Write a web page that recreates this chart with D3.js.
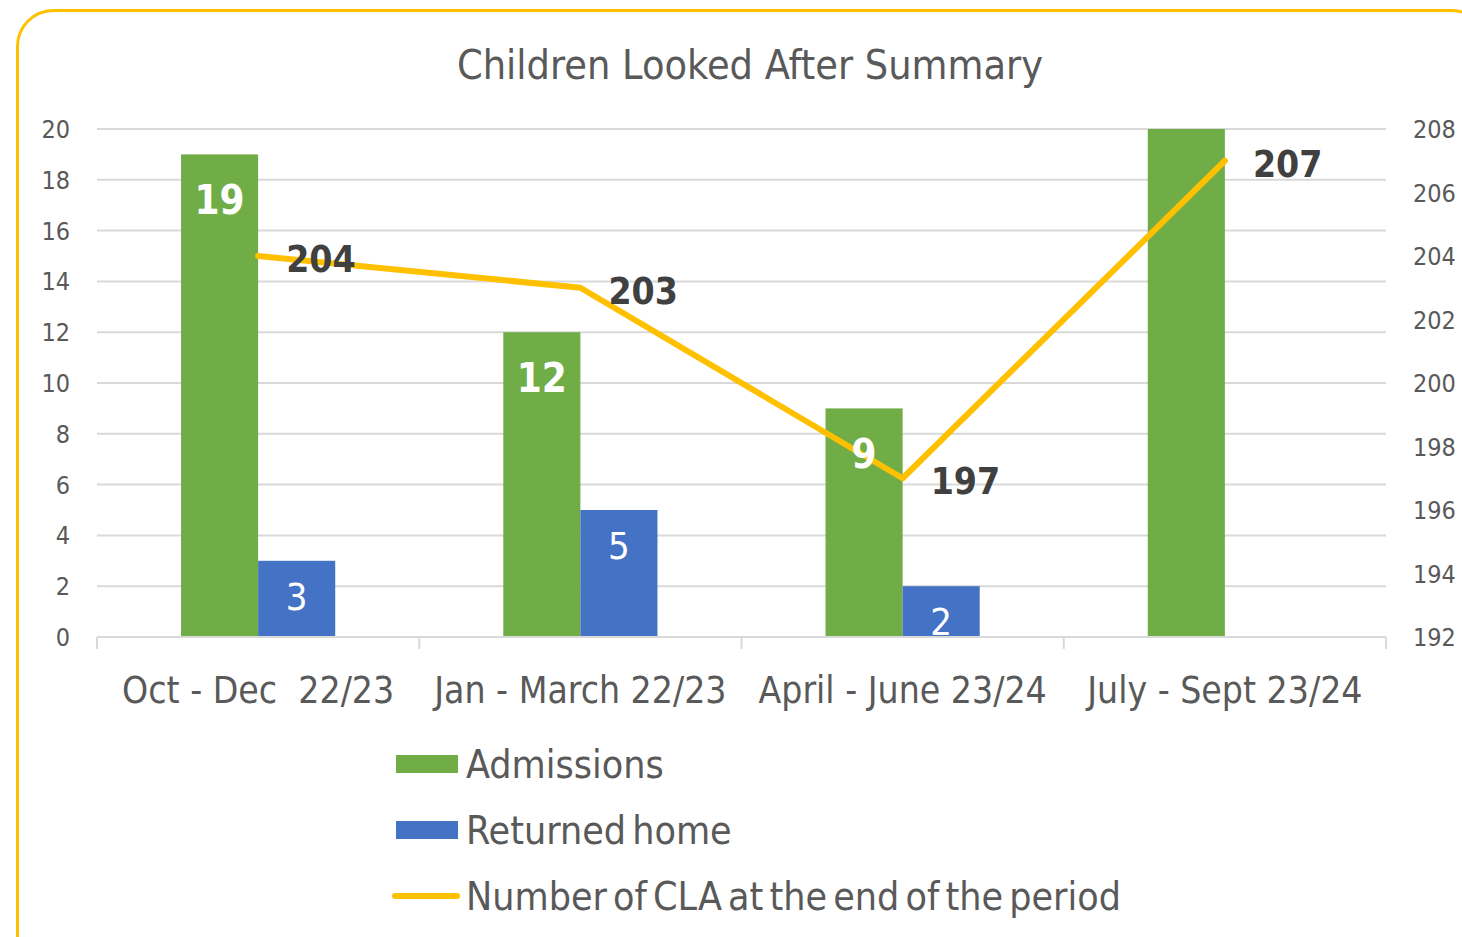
<!DOCTYPE html>
<html>
<head>
<meta charset="utf-8">
<script src="https://cdn.jsdelivr.net/npm/d3@7"></script>
<style>
  body { margin: 0; background: #fff; }
  text { font-family: "DejaVu Sans Condensed", "Roboto", sans-serif; }
</style>
</head>
<body>
<div id="chart"></div>
<script>
const categories = ["Oct - Dec  22/23", "Jan - March 22/23", "April - June 23/24", "July - Sept 23/24"];
const admissions = [19, 12, 9, 20];
const returnedHome = [3, 5, 2, null];
const claEnd = [204, 203, 197, 207];
const leftTicks = [0, 2, 4, 6, 8, 10, 12, 14, 16, 18, 20];
const rightTicks = [192, 194, 196, 198, 200, 202, 204, 206, 208];

const width = 1462, height = 937;
const green = "#70AD47", blue = "#4472C4", gold = "#FFC000", grey = "#595959";

const svg = d3.select("#chart").append("svg")
    .attr("width", width)
    .attr("height", height);

// frame
svg.append("rect")
    .attr("x", 17.5).attr("y", 10.5)
    .attr("width", 1470).attr("height", 960)
    .attr("rx", 36).attr("ry", 36)
    .attr("fill", "none")
    .attr("stroke", gold)
    .attr("stroke-width", 3);

svg.append("text")
    .attr("x", 750).attr("y", 79)
    .attr("text-anchor", "middle")
    .attr("font-size", 41)
    .attr("fill", grey)
    .text("Children Looked After Summary");

const plotL = 97, plotR = 1386, plotT = 129, plotB = 637;

const x = d3.scaleBand().domain(categories).range([plotL, plotR]).padding(0);
const x1 = d3.scaleBand().domain(["adm", "ret"]).range([0, x.bandwidth()]).paddingInner(0).paddingOuter(1.09);
const y = d3.scaleLinear().domain([0, 20]).range([plotB, plotT]);
const y2 = d3.scaleLinear().domain([192, 208]).range([plotB, plotT]);

// gridlines
svg.append("g")
    .selectAll("line")
    .data(leftTicks.slice(1))
    .enter().append("line")
    .attr("x1", plotL).attr("x2", plotR)
    .attr("y1", d => y(d)).attr("y2", d => y(d))
    .attr("stroke", "#d9d9d9")
    .attr("stroke-width", 2);

// left axis
svg.append("g")
    .selectAll("text")
    .data(leftTicks)
    .enter().append("text")
    .attr("x", 70)
    .attr("y", d => y(d) + 9)
    .attr("text-anchor", "end")
    .attr("font-size", 25)
    .attr("fill", grey)
    .text(d => d);

// right axis
svg.append("g")
    .selectAll("text")
    .data(rightTicks)
    .enter().append("text")
    .attr("x", 1413)
    .attr("y", d => y2(d) + 9)
    .attr("font-size", 25)
    .attr("fill", grey)
    .text(d => d);

// bars
const groups = svg.append("g")
    .selectAll("g")
    .data(categories)
    .enter().append("g")
    .attr("transform", d => "translate(" + x(d) + ",0)");

groups.append("rect")
    .attr("x", x1("adm"))
    .attr("width", x1.bandwidth())
    .attr("y", (d, i) => y(admissions[i]))
    .attr("height", (d, i) => plotB - y(admissions[i]))
    .attr("fill", green);

groups.filter((d, i) => returnedHome[i] != null)
    .append("rect")
    .attr("x", x1("ret"))
    .attr("width", x1.bandwidth())
    .attr("y", d => y(returnedHome[categories.indexOf(d)]))
    .attr("height", d => plotB - y(returnedHome[categories.indexOf(d)]))
    .attr("fill", blue);

// x axis
svg.append("line")
    .attr("x1", plotL).attr("x2", plotR)
    .attr("y1", plotB).attr("y2", plotB)
    .attr("stroke", "#d9d9d9").attr("stroke-width", 2);

svg.append("g")
    .selectAll("line")
    .data(categories.concat([null]))
    .enter().append("line")
    .attr("x1", d => d == null ? plotR : x(d))
    .attr("x2", d => d == null ? plotR : x(d))
    .attr("y1", plotB).attr("y2", plotB + 12)
    .attr("stroke", "#d9d9d9").attr("stroke-width", 2);

svg.append("g")
    .selectAll("text")
    .data(categories)
    .enter().append("text")
    .attr("x", d => x(d) + x.bandwidth() / 2)
    .attr("y", 703)
    .attr("text-anchor", "middle")
    .attr("font-size", 37)
    .attr("fill", grey)
    .style("white-space", "pre")
    .text(d => d);

// CLA line
const line = d3.line()
    .x((d, i) => x(categories[i]) + x.bandwidth() / 2)
    .y(d => y2(d));

svg.append("path")
    .datum(claEnd)
    .attr("d", line)
    .attr("fill", "none")
    .attr("stroke", gold)
    .attr("stroke-width", 6)
    .attr("stroke-linejoin", "round")
    .attr("stroke-linecap", "round");

svg.append("g")
    .selectAll("text")
    .data(claEnd)
    .enter().append("text")
    .attr("x", (d, i) => x(categories[i]) + x.bandwidth() / 2 + 28)
    .attr("y", d => y2(d) + 16)
    .attr("font-size", 37)
    .attr("font-weight", "bold")
    .attr("fill", "#404040")
    .text(d => d);

// bar labels drawn over the line (the bar at the axis max is clipped in the original, so no label)
const labels = svg.append("g")
    .selectAll("g")
    .data(categories)
    .enter().append("g")
    .attr("transform", d => "translate(" + x(d) + ",0)");

labels.filter((d, i) => admissions[i] < 20)
    .append("text")
    .attr("x", x1("adm") + x1.bandwidth() / 2)
    .attr("y", d => y(admissions[categories.indexOf(d)]) + 60)
    .attr("text-anchor", "middle")
    .attr("font-size", 40)
    .attr("font-weight", "bold")
    .attr("fill", "#fff")
    .text(d => admissions[categories.indexOf(d)]);

labels.filter((d, i) => returnedHome[i] != null)
    .append("text")
    .attr("x", x1("ret") + x1.bandwidth() / 2)
    .attr("y", d => y(returnedHome[categories.indexOf(d)]) + 49)
    .attr("text-anchor", "middle")
    .attr("font-size", 38)
    .attr("fill", "#fff")
    .text(d => returnedHome[categories.indexOf(d)]);

// legend
const legend = [
    { name: "Admissions", color: green, type: "rect" },
    { name: "Returned home", color: blue, type: "rect" },
    { name: "Number of CLA at the end of the period", color: gold, type: "line" }
];

const lg = svg.append("g")
    .selectAll("g")
    .data(legend)
    .enter().append("g")
    .attr("transform", (d, i) => "translate(0," + (764 + i * 66) + ")");

lg.filter(d => d.type == "rect").append("rect")
    .attr("x", 396).attr("y", -9)
    .attr("width", 62).attr("height", 18)
    .attr("fill", d => d.color);

lg.filter(d => d.type == "line").append("line")
    .attr("x1", 395).attr("x2", 457)
    .attr("y1", 0).attr("y2", 0)
    .attr("stroke", d => d.color)
    .attr("stroke-width", 6)
    .attr("stroke-linecap", "round");

lg.append("text")
    .attr("x", 466)
    .attr("y", 14)
    .attr("font-size", 39)
    .attr("fill", grey)
    .style("word-spacing", "-5px")
    .text(d => d.name);
</script>
</body>
</html>
